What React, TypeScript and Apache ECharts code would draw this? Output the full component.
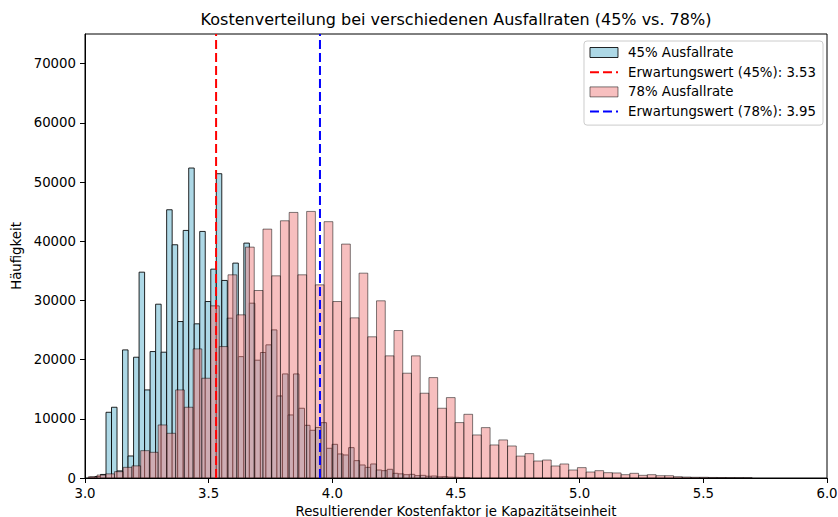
import React, { useEffect, useRef } from 'react';
import * as echarts from 'echarts';

// Histogram bins (regular bins: start edge + width), counts
const blueBinStart = 3.01803;
const blueBinWidth = 0.022294;
const blueCounts = [
  150, 250, 600,
  11100, 11950, 1200, 21640, 3720, 20400, 34770, 14880, 21360, 29360,
  21250, 45310, 39400, 26430, 41820, 52360, 26040, 41650, 29810, 35280,
  51400, 33370, 27000, 36300, 20500, 39680, 29530, 19900, 21200, 22490,
  25020, 13860, 17580, 10650, 17580, 11780, 8900, 8060, 8540, 9350,
  5020, 5690, 4060, 3890, 5130, 2930, 2200, 1800, 2370, 1350,
  1240, 1470, 790, 700, 560, 620, 400, 450, 300, 340,
  200, 230, 150, 120, 80, 60,
];

const redBinStart = 3.01322;
const redBinWidth = 0.035317;
const redCounts = [
  200, 500, 700, 1070, 1800, 2050, 4620, 4340, 8960, 7550,
  14880, 11950, 21810, 16850, 29080, 22200, 34320, 27560, 39000, 31670,
  42040, 34150, 43450, 44860, 34320, 45030, 32630, 43300, 29810, 39510,
  27050, 34600, 23850, 29930, 20630, 24910, 17700, 20630, 14320, 16960,
  11780, 13580, 9360, 10760, 7270, 8510, 5580, 6430, 5410, 3700,
  4120, 2870, 3040, 2030, 2370, 1350, 1750, 1010, 1240, 900,
  850, 560, 790, 450, 560, 390, 390, 220, 160, 120,
  120, 90, 80, 60, 50, 40,
];

const mean45 = 3.53;
const mean78 = 3.95;

const seriesNames = [
  '45% Ausfallrate',
  'Erwartungswert (45%): 3.53',
  '78% Ausfallrate',
  'Erwartungswert (78%): 3.95',
];

const titleText = 'Kostenverteilung bei verschiedenen Ausfallraten (45% vs. 78%)';
const xLabel = 'Resultierender Kostenfaktor je Kapazitätseinheit';
const yLabel = 'Häufigkeit';

const xMin = 3.0;
const xMax = 6.0;
const xStep = 0.5;
const yMin = 0;
const yMax = 75000;
const yStep = 10000;

const FONT = 'DejaVu Sans';
const FS = 13.3;

const BLUE_FILL = '#add8e6';
const BLUE_EDGE = 'rgba(0,0,0,0.85)';
const RED_FILL = 'rgba(240,128,128,0.5)';
const RED_EDGE = 'rgba(0,0,0,0.5)';

function toBins(start: number, width: number, counts: number[]) {
  return counts.map((c, i) => [start + i * width, start + (i + 1) * width, c]);
}

function makeRender(fill: string, stroke: string) {
  return (_params: any, api: any) => {
    const x0 = api.value(0);
    const x1 = api.value(1);
    const c = api.value(2);
    const p0 = api.coord([x0, c]);
    const p1 = api.coord([x1, 0]);
    return {
      type: 'rect',
      shape: { x: p0[0], y: p0[1], width: p1[0] - p0[0], height: p1[1] - p0[1] },
      style: { fill, stroke, lineWidth: 1 },
    };
  };
}

export default function App() {
  const ref = useRef<HTMLDivElement>(null);

  useEffect(() => {
    if (!ref.current) return;
    const chart = echarts.init(ref.current, null, { renderer: 'svg' });

    const option: any = {
      animation: false,
      backgroundColor: '#ffffff',
      textStyle: { fontFamily: FONT },
      grid: {
        left: 85,
        right: 11,
        top: 34,
        bottom: 39,
        containLabel: false,
        outerBoundsMode: 'none',
        show: true,
        borderColor: '#000',
        borderWidth: 1,
        backgroundColor: 'transparent',
      },
      graphic: [
        {
          type: 'text',
          x: 456,
          y: 19,
          style: {
            text: titleText,
            fontFamily: FONT,
            fontSize: 16,
            fill: '#000',
            align: 'center',
            verticalAlign: 'middle',
          },
        },
      ],
      legend: {
        orient: 'vertical',
        right: 15,
        top: 41,
        padding: [4, 7, 6, 5],
        itemWidth: 28,
        itemHeight: 10,
        itemGap: 4.7,
        backgroundColor: 'rgba(255,255,255,0.8)',
        borderColor: '#cccccc',
        borderWidth: 1,
        borderRadius: 3,
        selectedMode: false,
        textStyle: {
          fontFamily: FONT,
          fontSize: FS,
          color: '#000',
          lineHeight: 15,
          padding: [0, 0, 0, 5],
        },
        data: [
          {
            name: seriesNames[0],
            icon: 'rect',
            itemStyle: { color: BLUE_FILL, borderColor: BLUE_EDGE, borderWidth: 1 },
          },
          { name: seriesNames[1], itemStyle: { opacity: 0 } },
          {
            name: seriesNames[2],
            icon: 'rect',
            itemStyle: { color: RED_FILL, borderColor: RED_EDGE, borderWidth: 1 },
          },
          { name: seriesNames[3], itemStyle: { opacity: 0 } },
        ],
      },
      xAxis: {
        type: 'value',
        min: xMin,
        max: xMax,
        interval: xStep,
        name: xLabel,
        nameLocation: 'middle',
        nameGap: 25,
        nameTextStyle: { fontFamily: FONT, fontSize: FS, color: '#000' },
        axisLine: { show: true, lineStyle: { color: '#000', width: 1 } },
        axisTick: { show: true, length: 5, lineStyle: { color: '#000' } },
        axisLabel: {
          fontFamily: FONT,
          fontSize: FS,
          color: '#000',
          margin: 9,
          formatter: (v: number) => v.toFixed(1),
        },
        splitLine: { show: false },
      },
      yAxis: {
        type: 'value',
        min: yMin,
        max: yMax,
        interval: yStep,
        name: yLabel,
        nameLocation: 'middle',
        nameGap: 58,
        nameTextStyle: { fontFamily: FONT, fontSize: FS, color: '#000' },
        axisLine: { show: true, lineStyle: { color: '#000', width: 1 } },
        axisTick: { show: true, length: 5, lineStyle: { color: '#000' } },
        axisLabel: {
          fontFamily: FONT,
          fontSize: FS,
          color: '#000',
          margin: 9,
          showMaxLabel: false,
          formatter: (v: number) => (v > 70000 ? '' : String(v)),
        },
        splitLine: { show: false },
      },
      series: [
        {
          name: seriesNames[0],
          type: 'custom',
          renderItem: makeRender(BLUE_FILL, BLUE_EDGE),
          encode: { x: [0, 1], y: 2 },
          itemStyle: { color: BLUE_FILL, borderColor: BLUE_EDGE },
          data: toBins(blueBinStart, blueBinWidth, blueCounts),
          clip: true,
          z: 2,
        },
        {
          name: seriesNames[1],
          type: 'line',
          symbol: 'none',
          data: [
            [mean45, yMin],
            [mean45, yMax],
          ],
          lineStyle: { color: '#ff0000', width: 2, type: [9, 4] },
          itemStyle: { color: '#ff0000' },
          z: 5,
        },
        {
          name: seriesNames[2],
          type: 'custom',
          renderItem: makeRender(RED_FILL, RED_EDGE),
          encode: { x: [0, 1], y: 2 },
          itemStyle: { color: RED_FILL, borderColor: RED_EDGE },
          data: toBins(redBinStart, redBinWidth, redCounts),
          clip: true,
          z: 3,
        },
        {
          name: seriesNames[3],
          type: 'line',
          symbol: 'none',
          data: [
            [mean78, yMin],
            [mean78, yMax],
          ],
          lineStyle: { color: '#0000ff', width: 2, type: [9, 4] },
          itemStyle: { color: '#0000ff' },
          z: 5,
        },
      ],
    };

    chart.setOption(option);
    return () => chart.dispose();
  }, []);

  return (
    <div
      ref={ref}
      style={{ position: 'fixed', left: 0, top: 0, width: 838, height: 517, background: '#fff' }}
    />
  );
}
